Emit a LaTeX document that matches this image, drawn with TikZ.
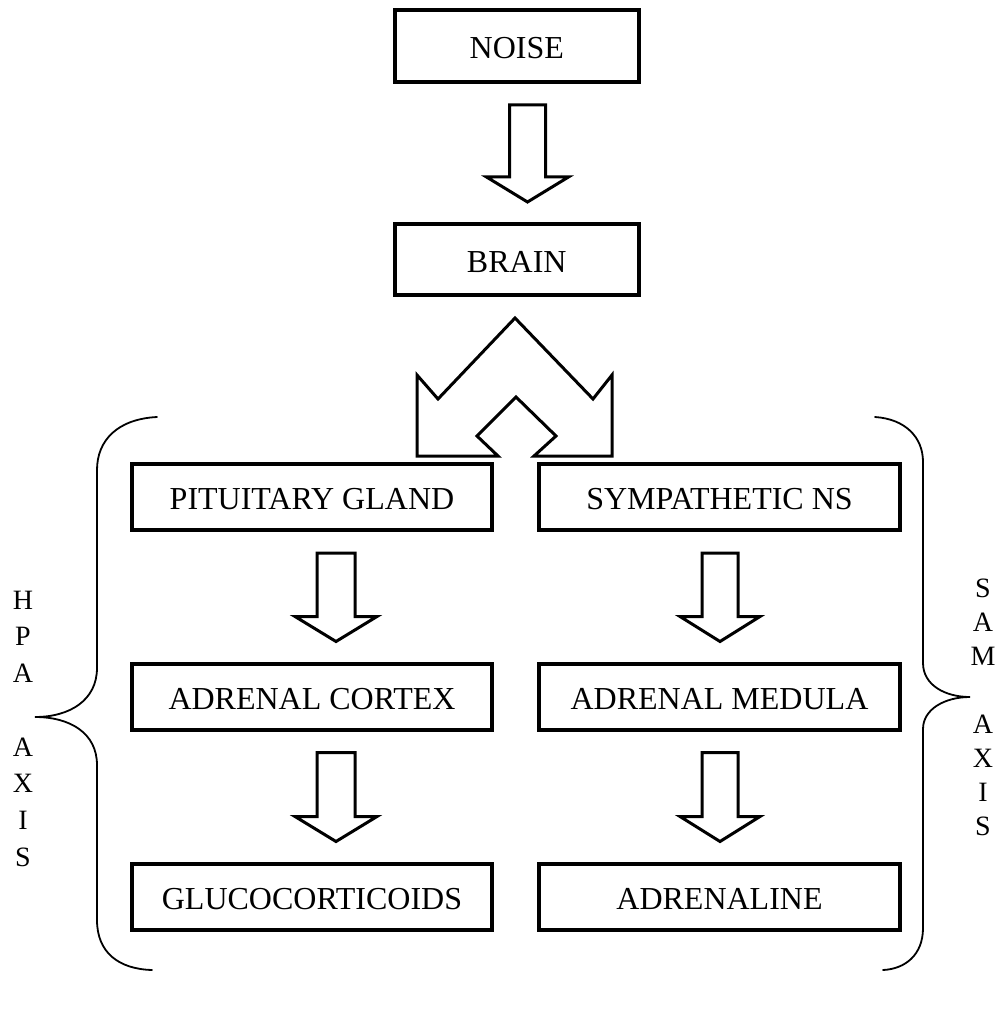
\documentclass[tikz,border=0pt]{standalone}
\usepackage{fontspec}
\setmainfont{Liberation Serif}
\usetikzlibrary{calc}
\tikzset{
  box/.style={draw, line width=4pt, minimum width=#1, minimum height=66pt, inner sep=0pt,
    text height=25pt, text depth=0pt, font=\fontsize{32}{36}\selectfont},
  hollow/.style={draw, line width=3pt, line join=miter, fill=white},
  bracepath/.style={draw, line width=1.8pt, line cap=round},
  axislbl/.style={font=\fontsize{28}{34}\selectfont, inner sep=0pt}
}
\newcommand\hollowdown[5]{%
  \draw[hollow] let \p1=(#2.south), \p2=(#3.north) in
   (#1pt-#4pt,\y1-21pt) -- (#1pt+#4pt,\y1-21pt) -- (#1pt+#4pt,\y2+45pt)
   -- (#1pt+#5pt,\y2+45pt) -- (#1pt,\y2+20pt) -- (#1pt-#5pt,\y2+45pt)
   -- (#1pt-#4pt,\y2+45pt) -- cycle;}
\begin{document}
\begin{tikzpicture}[x=1pt,y=-1pt]
\useasboundingbox (0,0) rectangle (1001,1016);
% boxes
\node[box=243.5pt, minimum height=72pt] (noise) at (516.75,46) {NOISE};
\node[box=243.5pt, minimum height=71pt] (brain) at (516.75,259.5) {BRAIN};
\node[box=360pt] (pit) at (312,497) {PITUITARY GLAND};
\node[box=360pt] (cortex) at (312,696.5) {ADRENAL CORTEX};
\node[box=360pt] (gluco) at (312,896.5) {GLUCOCORTICOIDS};
\node[box=361pt] (symp) at (719.5,497) {SYMPATHETIC NS};
\node[box=361pt] (medula) at (719.5,696.5) {ADRENAL MEDULA};
\node[box=361pt] (adren) at (719.5,896.5) {ADRENALINE};
% hollow arrows
\hollowdown{527.5}{noise}{brain}{18}{41}
\hollowdown{336}{pit}{cortex}{19}{41}
\hollowdown{336}{cortex}{gluco}{19}{41}
\hollowdown{720}{symp}{medula}{18}{40}
\hollowdown{720}{medula}{adren}{18}{40}
% double chevron arrow from brain
\draw[hollow] (515,318) -- (438,399) -- (417,375) -- (417,456) -- (498,456)
  -- (477,436) -- (516,397) -- (556,436) -- (534,456) -- (612,456)
  -- (612,375) -- (593,399) -- cycle;
% braces
\draw[bracepath] (157,417) .. controls (118,419) and (97,440) .. (97,470)
  -- (97,668) .. controls (97,700) and (70,717) .. (35,717)
  .. controls (70,717) and (97,733) .. (97,765)
  -- (97,920) .. controls (97,952) and (118,969) .. (152,970);
\draw[bracepath] (875,417) .. controls (905,419) and (923,437) .. (923,462)
  -- (923,663) .. controls (923,685) and (945,697) .. (970,697)
  .. controls (945,697) and (923,709) .. (923,729)
  -- (923,928) .. controls (923,955) and (905,969) .. (883,970);
% axis labels
\foreach \t/\k [count=\i] in {H/0,P/1,A/2,A/4,X/5,I/6,S/7}
  \node[axislbl] (hpa\i) at (23,600+36.7*\k) {\t};
\foreach \t/\k [count=\i] in {S/0,A/1,M/2,A/4,X/5,I/6,S/7}
  \node[axislbl] (sam\i) at (983,588+34*\k) {\t};
\end{tikzpicture}
\end{document}
